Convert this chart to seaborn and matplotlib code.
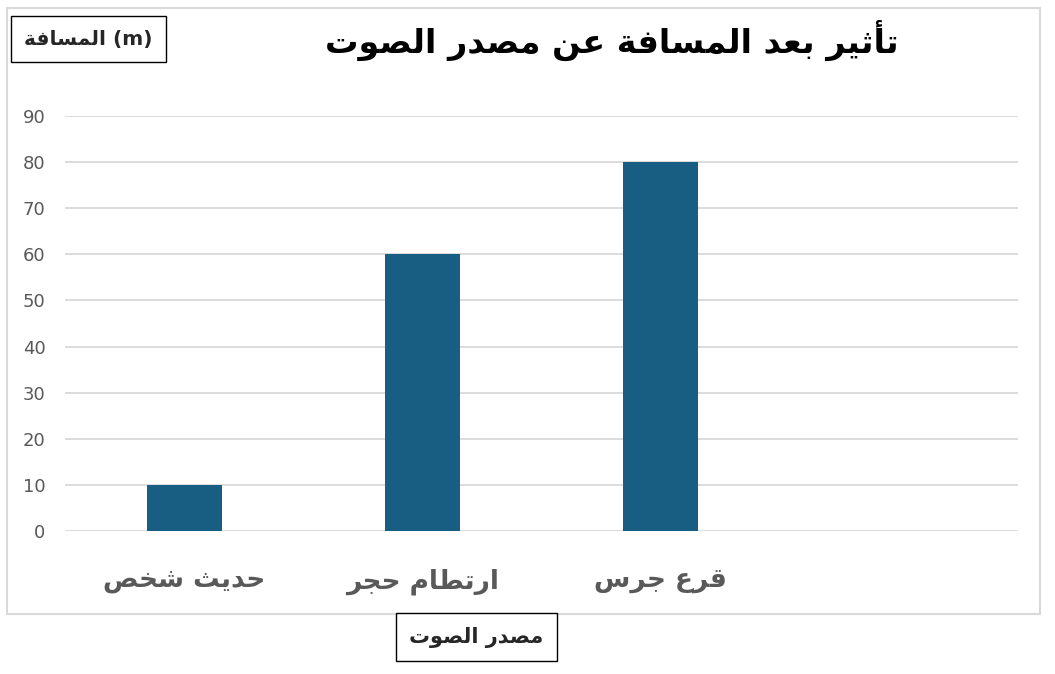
import matplotlib
matplotlib.use("Agg")
import matplotlib.pyplot as plt
from matplotlib.patches import Rectangle
import seaborn as sns

# data
categories = ["حديث شخص", "ارتطام حجر", "قرع جرس"]
distances = [10, 60, 80]
title_text = "تأثير بعد المسافة عن مصدر الصوت"
y_label_text = "المسافة"
x_label_text = "مصدر الصوت"

# minimal Arabic shaping: (isolated, final, initial, medial)
FORMS = {
    'ا': (0xFE8D, 0xFE8E, None, None), 'أ': (0xFE83, 0xFE84, None, None),
    'ب': (0xFE8F, 0xFE90, 0xFE91, 0xFE92), 'ة': (0xFE93, 0xFE94, None, None),
    'ت': (0xFE95, 0xFE96, 0xFE97, 0xFE98), 'ث': (0xFE99, 0xFE9A, 0xFE9B, 0xFE9C),
    'ج': (0xFE9D, 0xFE9E, 0xFE9F, 0xFEA0), 'ح': (0xFEA1, 0xFEA2, 0xFEA3, 0xFEA4),
    'خ': (0xFEA5, 0xFEA6, 0xFEA7, 0xFEA8), 'د': (0xFEA9, 0xFEAA, None, None),
    'ر': (0xFEAD, 0xFEAE, None, None), 'س': (0xFEB1, 0xFEB2, 0xFEB3, 0xFEB4),
    'ش': (0xFEB5, 0xFEB6, 0xFEB7, 0xFEB8), 'ص': (0xFEB9, 0xFEBA, 0xFEBB, 0xFEBC),
    'ط': (0xFEC1, 0xFEC2, 0xFEC3, 0xFEC4), 'ع': (0xFEC9, 0xFECA, 0xFECB, 0xFECC),
    'ف': (0xFED1, 0xFED2, 0xFED3, 0xFED4), 'ق': (0xFED5, 0xFED6, 0xFED7, 0xFED8),
    'ل': (0xFEDD, 0xFEDE, 0xFEDF, 0xFEE0), 'م': (0xFEE1, 0xFEE2, 0xFEE3, 0xFEE4),
    'ن': (0xFEE5, 0xFEE6, 0xFEE7, 0xFEE8), 'و': (0xFEED, 0xFEEE, None, None),
    'ي': (0xFEF1, 0xFEF2, 0xFEF3, 0xFEF4),
}


def ar(text):
    out = []
    for i, c in enumerate(text):
        if c not in FORMS:
            out.append(c)
            continue
        prev = text[i - 1] if i > 0 else None
        nxt = text[i + 1] if i + 1 < len(text) else None
        jp = prev in FORMS and FORMS[prev][2] is not None
        jn = FORMS[c][2] is not None and nxt in FORMS
        iso, fin, ini, med = FORMS[c]
        code = med if (jp and jn) else fin if jp else ini if jn else iso
        out.append(chr(code))
    return "".join(reversed(out))


sns.set_style("white")
plt.rcParams['font.family'] = ['DejaVu Sans']

fig = plt.figure(figsize=(10.55, 6.74), dpi=100)
ax = fig.add_axes([0.0616, 0.2122, 0.9033, 0.6157])

sns.barplot(x=[ar(c) for c in categories], y=distances, color="#175E82",
            saturation=1, width=0.315, linewidth=0, ax=ax, zorder=3)

ax.set_xlim(-0.5, 3.5)
ax.set_ylim(0, 90)
ax.set_yticks(range(0, 91, 10))
ax.yaxis.grid(True, color="#D9D9D9", linewidth=1.3, zorder=0)
ax.set_axisbelow(True)
sns.despine(ax=ax, left=True, bottom=True)
ax.set_xlabel("")
ax.set_ylabel("")
ax.tick_params(axis="y", length=0, pad=14, labelsize=13, labelcolor="#595959")
ax.tick_params(axis="x", length=0, pad=27)
for lbl in ax.get_xticklabels():
    lbl.set_fontweight("bold")
    lbl.set_fontsize(19)
    lbl.set_color("#595959")

# chart border
fig.patches.append(Rectangle((7 / 1055, 1 - 614 / 674), 1033 / 1055, 606 / 674,
                             transform=fig.transFigure, fill=False,
                             edgecolor="#D9D9D9", linewidth=1.5, zorder=0))

fig.text(612 / 1055, 1 - 40 / 674, ar(title_text), ha="center", va="center",
         fontsize=24, fontweight="bold", color="black")

fig.text(88.5 / 1055, 1 - 39 / 674, ar(y_label_text) + " (m)", ha="center",
         va="center", fontsize=14.5, fontweight="bold",
         bbox=dict(boxstyle="square,pad=0.65", fc="white", ec="black", lw=1))

fig.text(476.5 / 1055, 1 - 637 / 674, ar(x_label_text), ha="center", va="center",
         fontsize=15, fontweight="bold",
         bbox=dict(boxstyle="square,pad=0.65", fc="white", ec="black", lw=1))

fig.savefig("out.png", dpi=100)
